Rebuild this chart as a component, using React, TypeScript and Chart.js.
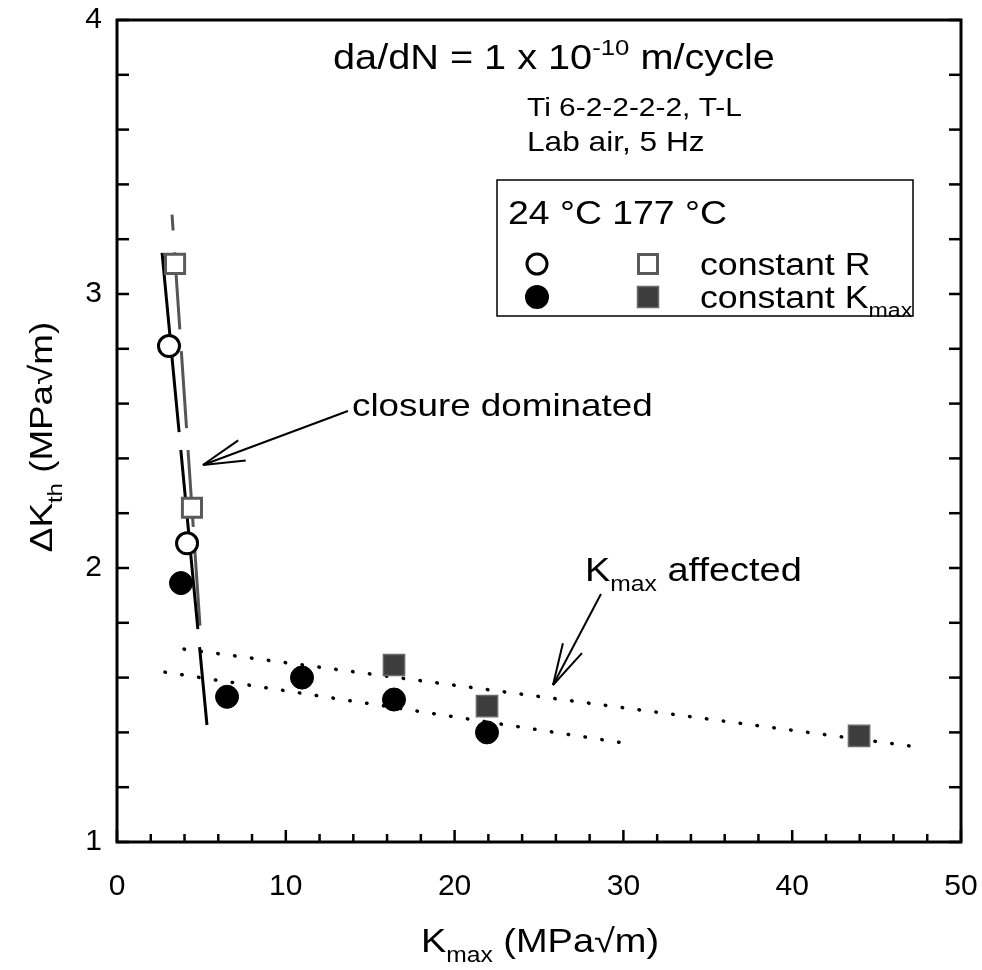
import React, { useEffect, useRef } from 'react';
import { Chart, registerables } from 'chart.js';

Chart.register(...registerables);

const FONT = '"Liberation Sans", Arial, Helvetica, sans-serif';
const SX = 1.15;

// 24 °C, constant R (open circles)
const rtR_K = [3.08, 4.15];
const rtR_dK = [2.81, 2.09];
// 177 °C, constant R (open squares)
const htR_K = [3.44, 4.44];
const htR_dK = [3.11, 2.22];
// 24 °C, constant Kmax (filled circles)
const rtK_K = [3.79, 6.52, 10.96, 16.41, 21.92];
const rtK_dK = [1.945, 1.53, 1.6, 1.52, 1.4];
// 177 °C, constant Kmax (filled squares)
const htK_K = [16.41, 21.92, 43.96];
const htK_dK = [1.646, 1.496, 1.387];

// trend lines
const rtR_lineK = [2.67, 5.33];
const rtR_lineDK = [3.15, 1.427];
const htR_lineK = [3.26, 4.92];
const htR_lineDK = [3.29, 1.785];
const rtK_lineK = [2.84, 30.15];
const rtK_lineDK = [1.62, 1.36];
const htK_lineK = [3.97, 47.39];
const htK_lineDK = [1.704, 1.347];

// annotation arrows: [tail, tip]
const arrowClosureK = [13.68, 5.09];
const arrowClosureDK = [2.573, 2.376];
const arrowKmaxK = [28.67, 25.83];
const arrowKmaxDK = [1.905, 1.573];

const X_MIN = 0, X_MAX = 50, X_STEP = 10, X_MINOR = 2;
const Y_MIN = 1, Y_MAX = 4, Y_STEP = 1, Y_MINOR = 0.2;

type Seg = { t: string; k?: 'sub' | 'sup' };

function segFont(size: number, s: Seg) {
  return `${s.k ? size * 0.65 : size}px ${FONT}`;
}

function richWidth(ctx: CanvasRenderingContext2D, segs: Seg[], size: number) {
  let w = 0;
  for (const s of segs) {
    ctx.font = segFont(size, s);
    w += ctx.measureText(s.t).width;
  }
  return w * SX;
}

function drawRich(
  ctx: CanvasRenderingContext2D,
  x: number,
  y: number,
  segs: Seg[],
  size: number,
  align: 'left' | 'center' | 'right' = 'left'
) {
  const w = richWidth(ctx, segs, size);
  const sx = align === 'left' ? x : align === 'center' ? x - w / 2 : x - w;
  ctx.save();
  ctx.translate(sx, y);
  ctx.scale(SX, 1);
  ctx.textAlign = 'left';
  ctx.textBaseline = 'alphabetic';
  ctx.fillStyle = '#000';
  let cx = 0;
  for (const s of segs) {
    ctx.font = segFont(size, s);
    const dy = s.k === 'sub' ? size * 0.3 : s.k === 'sup' ? -size * 0.42 : 0;
    ctx.fillText(s.t, cx, dy);
    cx += ctx.measureText(s.t).width;
  }
  ctx.restore();
}

function seg(ctx: CanvasRenderingContext2D, x1: number, y1: number, x2: number, y2: number) {
  ctx.beginPath();
  ctx.moveTo(x1, y1);
  ctx.lineTo(x2, y2);
  ctx.stroke();
}

function arrow(ctx: CanvasRenderingContext2D, x1: number, y1: number, x2: number, y2: number) {
  ctx.lineWidth = 2;
  ctx.strokeStyle = '#000';
  seg(ctx, x1, y1, x2, y2);
  const ang = Math.atan2(y1 - y2, x1 - x2);
  const L = 43;
  const h = (14.5 * Math.PI) / 180;
  seg(ctx, x2, y2, x2 + L * Math.cos(ang + h), y2 + L * Math.sin(ang + h));
  seg(ctx, x2, y2, x2 + L * Math.cos(ang - h), y2 + L * Math.sin(ang - h));
}

const decoPlugin = {
  id: 'deco',
  afterDraw(chart: any) {
    const { ctx, chartArea: a, scales } = chart;
    const x = scales.x;
    const y = scales.y;
    ctx.save();
    // frame
    ctx.strokeStyle = '#000';
    ctx.lineWidth = 3;
    ctx.strokeRect(a.left, a.top, a.right - a.left, a.bottom - a.top);
    // ticks
    ctx.lineWidth = 2.5;
    for (let v = X_MIN; v <= X_MAX + 1e-9; v += X_MINOR) {
      const px = x.getPixelForValue(v);
      const r = v / X_STEP;
      const major = Math.abs(r - Math.round(r)) < 1e-6;
      seg(ctx, px, a.bottom, px, a.bottom - (major ? 12 : 8));
    }
    for (let v = Y_MIN; v <= Y_MAX + 1e-9; v += Y_MINOR) {
      const py = y.getPixelForValue(v);
      seg(ctx, a.left, py, a.left + 12, py);
      seg(ctx, a.right, py, a.right - 12, py);
    }

    // arrows
    arrow(
      ctx,
      x.getPixelForValue(arrowClosureK[0]), y.getPixelForValue(arrowClosureDK[0]),
      x.getPixelForValue(arrowClosureK[1]), y.getPixelForValue(arrowClosureDK[1])
    );
    arrow(
      ctx,
      x.getPixelForValue(arrowKmaxK[0]), y.getPixelForValue(arrowKmaxDK[0]),
      x.getPixelForValue(arrowKmaxK[1]), y.getPixelForValue(arrowKmaxDK[1])
    );

    // annotation texts
    drawRich(ctx, 333, 69, [{ t: 'da/dN = 1 x 10' }, { t: '-10', k: 'sup' }, { t: ' m/cycle' }], 34.5);
    drawRich(ctx, 527, 116, [{ t: 'Ti 6-2-2-2-2, T-L' }], 26);
    drawRich(ctx, 527, 151, [{ t: 'Lab air, 5 Hz' }], 27.5);
    drawRich(ctx, 352, 416, [{ t: 'closure dominated' }], 32);
    drawRich(ctx, 585, 581, [{ t: 'K' }, { t: 'max', k: 'sub' }, { t: ' affected' }], 33);

    // legend box
    ctx.lineWidth = 1.5;
    ctx.strokeStyle = '#000';
    ctx.strokeRect(497, 180, 416, 136);
    drawRich(ctx, 508, 224, [{ t: '24 °C 177 °C' }], 32.5);
    // legend symbols
    ctx.lineWidth = 3;
    ctx.strokeStyle = '#000';
    ctx.fillStyle = '#fff';
    ctx.beginPath();
    ctx.arc(537, 264, 10, 0, Math.PI * 2);
    ctx.fill();
    ctx.stroke();
    ctx.strokeStyle = '#5a5a5a';
    ctx.strokeRect(648 - 9.5, 264 - 9.5, 19, 19);
    ctx.fillStyle = '#000';
    ctx.beginPath();
    ctx.arc(537, 297, 12, 0, Math.PI * 2);
    ctx.fill();
    ctx.fillStyle = '#3d3d3d';
    ctx.fillRect(648 - 10.5, 297 - 10.5, 21, 21);
    ctx.lineWidth = 1.5;
    ctx.strokeStyle = '#6a6a6a';
    ctx.strokeRect(648 - 10.5, 297 - 10.5, 21, 21);
    drawRich(ctx, 700, 275, [{ t: 'constant R' }], 31);
    drawRich(ctx, 700, 308, [{ t: 'constant K' }, { t: 'max', k: 'sub' }], 31);

    // axis titles
    drawRich(ctx, 540, 952, [{ t: 'K' }, { t: 'max', k: 'sub' }, { t: ' (MPa√m)' }], 33, 'center');
    ctx.save();
    ctx.translate(52, 437);
    ctx.rotate(-Math.PI / 2);
    drawRich(ctx, 0, 0, [{ t: 'ΔK' }, { t: 'th', k: 'sub' }, { t: ' (MPa√m)' }], 32, 'center');
    ctx.restore();

    ctx.restore();
  },
};

function pts(xs: number[], ys: number[]) {
  return xs.map((v, i) => ({ x: v, y: ys[i] }));
}

function zeroPad(s: any) {
  s.paddingLeft = 0;
  s.paddingRight = 0;
  s.paddingTop = 0;
  s.paddingBottom = 0;
}

export default function App() {
  const ref = useRef<HTMLCanvasElement | null>(null);

  useEffect(() => {
    if (!ref.current) return;
    const lineBase = {
      type: 'scatter' as const,
      showLine: true,
      pointRadius: 0,
      pointHoverRadius: 0,
      fill: false,
      order: 10,
    };
    const chart = new Chart(ref.current, {
      type: 'scatter',
      data: {
        datasets: [
          {
            ...lineBase,
            label: '24 °C constant R trend',
            data: pts(rtR_lineK, rtR_lineDK),
            borderColor: '#000',
            borderWidth: 3,
            borderDash: [180, 18],
          },
          {
            ...lineBase,
            label: '177 °C constant R trend',
            data: pts(htR_lineK, htR_lineDK),
            borderColor: '#555',
            borderWidth: 3,
            borderDash: [77, 22],
            borderDashOffset: 61,
          },
          {
            ...lineBase,
            label: '24 °C constant Kmax trend',
            data: pts(rtK_lineK, rtK_lineDK),
            borderColor: '#000',
            borderWidth: 3.5,
            borderDash: [0.5, 16.5],
            borderCapStyle: 'round',
          },
          {
            ...lineBase,
            label: '177 °C constant Kmax trend',
            data: pts(htK_lineK, htK_lineDK),
            borderColor: '#000',
            borderWidth: 3.5,
            borderDash: [0.5, 16.5],
            borderCapStyle: 'round',
          },
          {
            label: '24 °C constant R',
            data: pts(rtR_K, rtR_dK),
            pointStyle: 'circle',
            pointRadius: 10.5,
            backgroundColor: '#fff',
            borderColor: '#000',
            borderWidth: 3,
            order: 1,
          },
          {
            label: '177 °C constant R',
            data: pts(htR_K, htR_dK),
            pointStyle: 'rect',
            pointRadius: 13.5,
            backgroundColor: '#fff',
            borderColor: '#5a5a5a',
            borderWidth: 3,
            order: 1,
          },
          {
            label: '24 °C constant Kmax',
            data: pts(rtK_K, rtK_dK),
            pointStyle: 'circle',
            pointRadius: 11.5,
            backgroundColor: '#000',
            borderColor: '#000',
            borderWidth: 1,
            order: 1,
          },
          {
            label: '177 °C constant Kmax',
            data: pts(htK_K, htK_dK),
            pointStyle: 'rect',
            pointRadius: 15,
            backgroundColor: '#3d3d3d',
            borderColor: '#6a6a6a',
            borderWidth: 1.5,
            order: 1,
          },
        ],
      },
      options: {
        responsive: false,
        animation: false,
        events: [],
        layout: { padding: { left: 0, top: 20, right: 21, bottom: 0 } },
        plugins: {
          legend: { display: false },
          tooltip: { enabled: false },
          title: { display: false },
        },
        scales: {
          x: {
            type: 'linear',
            min: X_MIN,
            max: X_MAX,
            grid: { display: false, drawTicks: false },
            border: { display: false },
            ticks: {
              stepSize: X_STEP,
              padding: 27,
              color: '#000',
              font: { family: FONT, size: 30 },
              maxRotation: 0,
            },
            afterFit: (s: any) => {
              s.height = 128;
              zeroPad(s);
            },
          },
          y: {
            type: 'linear',
            min: Y_MIN,
            max: Y_MAX,
            grid: { display: false, drawTicks: false },
            border: { display: false },
            ticks: {
              stepSize: Y_STEP,
              padding: 15,
              color: '#000',
              font: { family: FONT, size: 30 },
            },
            afterFit: (s: any) => {
              s.width = 117;
              zeroPad(s);
            },
          },
        },
      },
      plugins: [decoPlugin],
    } as any);
    return () => chart.destroy();
  }, []);

  return (
    <div style={{ position: 'absolute', left: 0, top: 0, width: 982, height: 970, background: '#fff' }}>
      <canvas ref={ref} width={982} height={970} style={{ width: 982, height: 970, display: 'block' }} />
    </div>
  );
}
